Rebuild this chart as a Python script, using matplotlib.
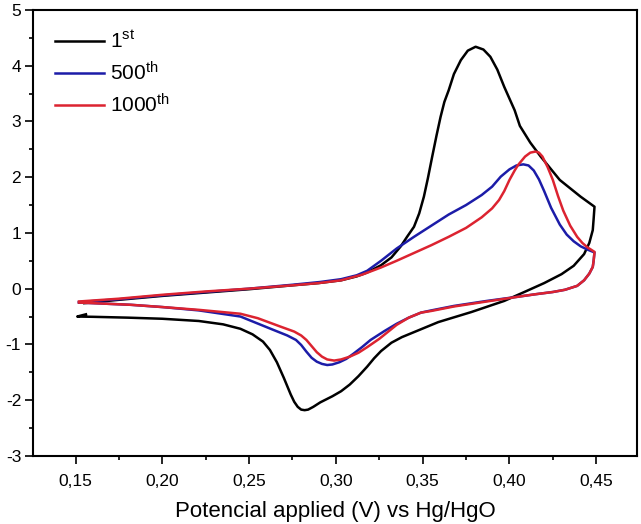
import numpy as np
import matplotlib
matplotlib.use("Agg")
import matplotlib.pyplot as plt
from matplotlib.ticker import MultipleLocator, FuncFormatter

plt.rcParams['font.family'] = ['Liberation Sans', 'DejaVu Sans']
plt.rcParams['mathtext.fontset'] = 'custom'
plt.rcParams['mathtext.rm'] = 'Liberation Sans'
plt.rcParams['mathtext.it'] = 'Liberation Sans'

# cycle 1: potential (V) and current, read along the loop
v_1st = [0.155, 0.175, 0.20, 0.225, 0.25, 0.275, 0.29, 0.303, 0.312, 0.318, 0.326,
         0.332, 0.3374, 0.341, 0.345, 0.348, 0.3507, 0.353, 0.3555, 0.358, 0.3603,
         0.3625, 0.365, 0.368, 0.372, 0.376, 0.3805, 0.385, 0.389, 0.393, 0.397,
         0.403, 0.406, 0.412, 0.418, 0.429, 0.441, 0.449,
         0.4485, 0.448, 0.446, 0.443, 0.437, 0.430, 0.420, 0.410, 0.397, 0.378, 0.359,
         0.345, 0.338, 0.332, 0.326, 0.322, 0.318, 0.313, 0.308, 0.303, 0.298, 0.291,
         0.287, 0.284, 0.282, 0.280, 0.278, 0.276, 0.274, 0.272, 0.270, 0.266, 0.262,
         0.258, 0.252, 0.245, 0.235, 0.221, 0.20, 0.18, 0.16, 0.151, 0.156]
i_1st = [-0.26, -0.20, -0.13, -0.07, -0.01, 0.06, 0.10, 0.15, 0.22, 0.29, 0.42,
         0.56, 0.76, 0.93, 1.11, 1.35, 1.65, 1.98, 2.37, 2.75, 3.08,
         3.35, 3.56, 3.85, 4.10, 4.27, 4.34, 4.29, 4.16, 3.93, 3.62,
         3.20, 2.92, 2.62, 2.37, 1.95, 1.65, 1.47,
         1.25, 1.05, 0.82, 0.62, 0.41, 0.26, 0.10, -0.04, -0.22, -0.42, -0.60,
         -0.78, -0.87, -0.97, -1.12, -1.25, -1.40, -1.57, -1.72, -1.84, -1.93, -2.04,
         -2.12, -2.17, -2.18, -2.17, -2.12, -2.03, -1.90, -1.75, -1.60, -1.32, -1.10,
         -0.95, -0.82, -0.72, -0.64, -0.58, -0.54, -0.52, -0.505, -0.50, -0.46]

# cycle 500
v_500th = [0.152, 0.175, 0.20, 0.225, 0.25, 0.275, 0.291, 0.303, 0.312, 0.318, 0.326,
           0.335, 0.345, 0.355, 0.365, 0.375, 0.384, 0.390, 0.395, 0.400, 0.404, 0.408,
           0.411, 0.414, 0.417, 0.420, 0.424, 0.429, 0.433, 0.437, 0.441, 0.445, 0.449,
           0.4485, 0.448, 0.446, 0.443, 0.439, 0.432, 0.425, 0.415, 0.406, 0.387, 0.368,
           0.355, 0.349, 0.342, 0.335, 0.328, 0.320, 0.315, 0.310, 0.306, 0.302, 0.298,
           0.295, 0.292, 0.289, 0.286, 0.283, 0.280, 0.277, 0.272, 0.264, 0.245, 0.221,
           0.20, 0.182, 0.16, 0.152]
i_500th = [-0.24, -0.19, -0.12, -0.06, 0.0, 0.07, 0.12, 0.17, 0.24, 0.32, 0.50,
           0.72, 0.93, 1.13, 1.33, 1.50, 1.68, 1.83, 2.01, 2.14, 2.21, 2.23,
           2.21, 2.12, 1.96, 1.75, 1.45, 1.15, 0.97, 0.85, 0.76, 0.70, 0.65,
           0.50, 0.39, 0.27, 0.15, 0.05, -0.02, -0.06, -0.10, -0.14, -0.22, -0.31,
           -0.39, -0.43, -0.52, -0.63, -0.76, -0.92, -1.05, -1.17, -1.26, -1.32, -1.36,
           -1.37, -1.35, -1.31, -1.24, -1.13, -1.01, -0.92, -0.84, -0.74, -0.50, -0.39,
           -0.33, -0.29, -0.26, -0.25]

# cycle 1000
v_1000th = [0.152, 0.175, 0.20, 0.225, 0.25, 0.275, 0.290, 0.303, 0.315, 0.326, 0.335,
            0.345, 0.355, 0.365, 0.375, 0.384, 0.390, 0.394, 0.397, 0.400, 0.403, 0.405,
            0.409, 0.412, 0.415, 0.417, 0.419, 0.422, 0.425, 0.428, 0.431, 0.435, 0.439,
            0.442, 0.445, 0.449,
            0.4485, 0.448, 0.446, 0.443, 0.439, 0.432, 0.425, 0.415, 0.406, 0.387, 0.368,
            0.355, 0.349, 0.342, 0.335, 0.325, 0.318, 0.313, 0.308, 0.303, 0.299, 0.295,
            0.292, 0.289, 0.286, 0.283, 0.280, 0.276, 0.268, 0.255, 0.245, 0.221, 0.20,
            0.182, 0.16, 0.152]
i_1000th = [-0.23, -0.18, -0.11, -0.05, 0.0, 0.06, 0.10, 0.15, 0.25, 0.38, 0.50,
            0.64, 0.78, 0.93, 1.09, 1.28, 1.44, 1.59, 1.75, 1.95, 2.12, 2.22,
            2.37, 2.44, 2.46, 2.44, 2.37, 2.18, 1.95, 1.66, 1.40, 1.13, 0.93,
            0.82, 0.74, 0.66,
            0.50, 0.39, 0.27, 0.15, 0.05, -0.02, -0.06, -0.10, -0.14, -0.23, -0.32,
            -0.40, -0.43, -0.52, -0.65, -0.90, -1.05, -1.15, -1.22, -1.27, -1.29, -1.27,
            -1.22, -1.14, -1.03, -0.92, -0.84, -0.77, -0.68, -0.53, -0.45, -0.38, -0.33,
            -0.29, -0.26, -0.25]

labels = ['1$^{st}$', '500$^{th}$', '1000$^{th}$']
colors = ['#000000', '#1c1ca8', '#dc2330']

fig = plt.figure(figsize=(6.41, 5.24), dpi=100)
ax = fig.add_axes([0.0515, 0.130, 0.9423, 0.851])

for v, i, lab, c in zip([v_1st, v_500th, v_1000th], [i_1st, i_500th, i_1000th], labels, colors):
    ax.plot(v, i, color=c, lw=1.8, label=lab, solid_joinstyle='round')

ax.set_xlim(0.1255, 0.4735)
ax.set_ylim(-3, 5)
ax.xaxis.set_major_locator(MultipleLocator(0.05))
ax.xaxis.set_minor_locator(MultipleLocator(0.025))
ax.yaxis.set_major_locator(MultipleLocator(1))
ax.yaxis.set_minor_locator(MultipleLocator(0.5))
ax.xaxis.set_major_formatter(FuncFormatter(lambda x, p: f"{x:.2f}".replace('.', ',')))
ax.yaxis.set_major_formatter(FuncFormatter(lambda y, p: f"{y:.0f}"))
ax.tick_params(which='both', direction='out', top=False, right=False, width=1.2, labelsize=12.5)
ax.tick_params(which='major', length=5.5)
ax.tick_params(which='minor', length=3)
ax.tick_params(axis='x', pad=7.5)
ax.tick_params(axis='y', pad=3)
for s in ax.spines.values():
    s.set_linewidth(1.5)

ax.set_xlabel('Potencial applied (V) vs Hg/HgO', fontsize=16, labelpad=8.5)
ax.legend(loc='upper left', frameon=False, fontsize=15, handlelength=2.35,
          borderaxespad=0.0, labelspacing=0.42, handletextpad=0.3,
          bbox_to_anchor=(0.022, 0.972))

fig.savefig('out.png', dpi=100)
